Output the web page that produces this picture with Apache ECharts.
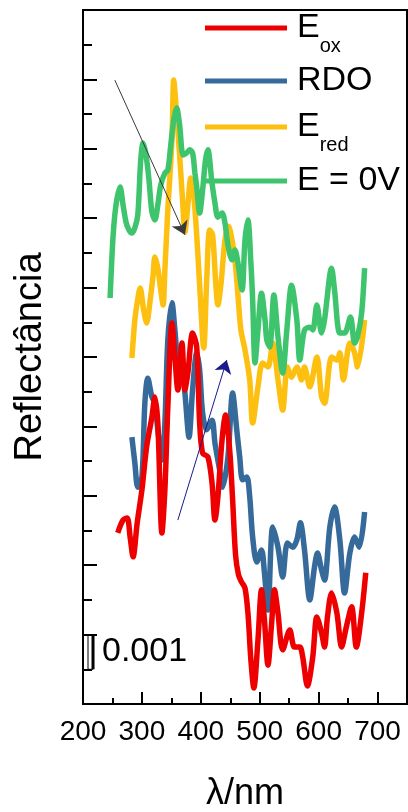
<!DOCTYPE html>
<html>
<head>
<meta charset="utf-8">
<title>Reflectância</title>
<script src="https://cdn.jsdelivr.net/npm/echarts@6/dist/echarts.min.js"></script>
<style>
  html, body { margin: 0; padding: 0; background: #fff; }
  #chart { width: 408px; height: 812px; }
</style>
</head>
<body>
<div id="chart"></div>
<script>
// reflectance values, in units of 0.001 (the scale bar)
const redNm = [259,268,275,280,285,292,300,308,317,322,327,334,339,344,351,356,361,368,373,378,386,393,398,403,412,419,424,429,436,442,449,454,459,464,469,475,480,485,490,497,503,508,514,520,525,531,539,551,559,568,573,581,590,597,605,610,615,622,631,639,647,656,664,673,680];
const redR = [4.93,5.30,5.36,4.81,4.24,5.22,6.17,7.41,8.27,8.85,8.10,4.93,6.17,8.56,10.98,10.00,9.05,10.40,9.05,9.54,10.69,10.29,8.10,7.23,7.12,6.37,5.30,5.97,7.61,8.33,7.32,5.88,4.29,3.72,3.52,3.34,2.62,1.27,0.46,1.84,3.29,2.42,1.12,2.28,3.29,2.62,1.56,2.13,1.64,1.64,1.35,0.52,1.35,2.51,2.05,1.64,2.51,3.20,2.62,1.64,2.22,2.80,1.64,2.62,3.78];

const blueNm = [283,288,293,300,305,310,317,322,327,334,339,344,351,356,361,368,373,380,386,393,398,403,410,419,424,432,437,446,454,461,466,471,478,483,488,495,503,508,514,522,531,539,547,556,563,569,576,585,593,598,605,610,619,627,636,644,653,661,669,678];
const blueR = [7.69,6.95,6.25,6.54,8.67,9.39,8.85,8.67,7.90,7.03,8.10,10.49,11.56,10.78,9.91,9.71,8.96,7.69,9.05,10.12,9.63,8.39,7.90,8.18,7.52,6.74,6.25,7.12,8.96,7.90,7.12,6.46,6.54,5.97,4.81,4.09,4.44,3.78,2.71,5.10,4.52,3.66,4.64,4.52,4.73,5.22,4.44,3.00,3.95,4.35,3.86,3.57,5.10,5.68,4.73,3.20,4.35,4.81,4.52,5.53];

const yellowNm = [283,288,292,297,303,308,314,319,322,327,332,336,339,344,351,354,359,364,369,373,378,383,388,393,398,405,410,415,420,425,429,434,441,447,453,458,463,468,475,483,488,497,505,514,522,531,539,547,554,563,571,576,585,597,605,610,622,631,636,642,653,661,666,678];
const yellowR = [9.97,11.07,11.56,11.99,11.35,10.98,11.64,12.36,12.88,12.56,11.93,11.50,12.51,14.24,16.25,17.98,16.97,15.82,14.52,13.60,14.38,15.16,14.67,13.52,12.07,10.26,12.22,13.66,13.52,12.22,11.50,12.07,13.37,13.77,13.37,12.80,11.79,10.78,10.20,9.34,8.10,9.14,9.83,9.71,10.40,9.34,8.47,9.71,9.42,9.71,9.34,9.71,9.14,10.00,8.85,8.67,10.00,9.91,10.12,9.34,10.40,10.12,9.71,11.07];

const greenNm = [246,251,256,263,268,273,278,283,288,293,298,302,307,312,317,322,327,332,339,344,349,354,359,364,370,376,381,386,390,393,398,403,408,412,419,424,429,436,441,446,453,458,463,470,475,480,485,488,492,497,503,509,512,517,524,531,539,546,554,563,568,576,585,590,597,605,610,622,627,636,644,654,661,666,673,678];
const greenR = [11.70,13.46,14.38,14.90,14.38,13.89,13.66,13.57,13.72,14.09,15.68,16.17,15.82,15.10,14.18,13.95,14.38,14.96,15.30,15.39,16.11,16.83,17.18,16.69,15.82,15.88,15.97,15.88,15.30,14.90,14.15,14.81,15.68,15.97,15.01,14.44,14.03,14.15,13.86,13.23,12.80,13.08,12.71,11.93,13.37,13.95,12.71,11.64,9.83,10.78,11.84,11.07,10.49,10.29,11.79,10.58,9.54,10.78,12.07,11.07,9.91,10.78,10.86,10.78,11.50,10.69,11.07,12.56,11.93,10.69,10.69,11.15,10.40,10.58,11.27,12.56];

const seriesNames = ['Eox', 'RDO', 'Ered', 'E = 0V'];
const legendLabels = ['{m|E}{s|ox}', '{r|RDO}', '{m|E}{s|red}', '{r|E = 0V}'];
const xTicks = [200, 300, 400, 500, 600, 700];

// arrows [[nm, R], [nm, R]] and scale bar
const blackArrow = [[254, 17.98], [373, 13.52]];
const blueArrow = [[361, 5.30], [444, 9.91]];
const scaleBar = [217, 1, 2];

const FONT = '"Liberation Sans", Arial, sans-serif';
const COLORS = ['#ee0000', '#356a9a', '#fdc010', '#3ec46d'];

function zip(xs, ys) {
  return xs.map((x, i) => [x, ys[i]]);
}

const chart = echarts.init(document.getElementById('chart'));

const legendTops = [11, 64, 110, 164];
const richText = {
  m: { fontSize: 34, fontFamily: FONT, color: '#000', lineHeight: 56, padding: [0, 0, 0, 5] },
  r: { fontSize: 34, fontFamily: FONT, color: '#000', lineHeight: 34, padding: [0, 0, 0, 5] },
  s: { fontSize: 20, fontFamily: FONT, color: '#000', lineHeight: 20, verticalAlign: 'bottom' }
};

const legends = seriesNames.map((name, i) => ({
  data: [name],
  left: 205,
  top: legendTops[i],
  padding: 0,
  icon: 'rect',
  itemWidth: 82,
  itemHeight: 5,
  selectedMode: false,
  formatter: () => legendLabels[i],
  textStyle: { rich: richText }
}));

function arrowLine(pts, color) {
  return [
    { coord: pts[0], lineStyle: { color: color, width: 1, type: 'solid' }, itemStyle: { color: color } },
    { coord: pts[1], lineStyle: { color: color, width: 1, type: 'solid' }, itemStyle: { color: color } }
  ];
}

const lineSeries = [
  { name: 'RDO', data: zip(blueNm, blueR), color: COLORS[1] },
  { name: 'Eox', data: zip(redNm, redR), color: COLORS[0] },
  { name: 'Ered', data: zip(yellowNm, yellowR), color: COLORS[2] },
  { name: 'E = 0V', data: zip(greenNm, greenR), color: COLORS[3] }
].map(s => ({
  name: s.name,
  type: 'line',
  data: s.data,
  showSymbol: false,
  smooth: 0.3,
  color: s.color,
  lineStyle: { width: 5.5, color: s.color },
  emphasis: { disabled: true },
  silent: true
}));

// arrows ride on the top-most series
lineSeries[3].markLine = {
  silent: true,
  symbol: ['none', 'arrow'],
  symbolSize: 13,
  label: { show: false },
  emphasis: { disabled: true },
  data: [arrowLine(blackArrow, '#3a3a3a'), arrowLine(blueArrow, '#1a1a8c')]
};

const option = {
  animation: false,
  backgroundColor: '#fff',
  textStyle: { fontFamily: FONT },
  grid: {
    left: 83, right: 1, top: 10, bottom: 108,
    outerBoundsMode: 'none',
    containLabel: false,
    show: true, borderColor: '#000', borderWidth: 2
  },
  legend: legends,
  xAxis: {
    type: 'value',
    min: 200, max: 750, interval: 100,
    name: 'λ/nm',
    nameLocation: 'middle',
    nameGap: 72,
    nameTextStyle: { fontSize: 36, color: '#000', fontFamily: FONT },
    axisLine: { lineStyle: { color: '#000', width: 2 } },
    axisTick: { inside: true, length: 12, lineStyle: { color: '#000', width: 2 } },
    minorTick: { show: true, splitNumber: 2, length: 6, lineStyle: { color: '#000', width: 2 } },
    splitLine: { show: false },
    axisLabel: {
      fontSize: 28, color: '#000', fontFamily: FONT, margin: 14,
      showMaxLabel: false,
      formatter: v => (xTicks.indexOf(v) >= 0 ? String(v) : '')
    }
  },
  yAxis: {
    type: 'value',
    min: 0, max: 20, interval: 2,
    name: 'Reflectância',
    nameLocation: 'middle',
    nameGap: 33,
    nameTextStyle: { fontSize: 38, color: '#000', fontFamily: FONT },
    axisLine: { lineStyle: { color: '#000', width: 2 } },
    axisTick: { inside: true, length: 14, lineStyle: { color: '#000', width: 2 } },
    minorTick: { show: true, splitNumber: 2, length: 9, lineStyle: { color: '#000', width: 2 } },
    splitLine: { show: false },
    axisLabel: { show: false }
  },
  series: lineSeries
};

chart.setOption(option);

// scale bar "0.001", placed in data coordinates
const pLow = chart.convertToPixel({ gridIndex: 0 }, [scaleBar[0], scaleBar[1]]);
const pHigh = chart.convertToPixel({ gridIndex: 0 }, [scaleBar[0], scaleBar[2]]);
chart.setOption({
  graphic: [
    { type: 'line', shape: { x1: pLow[0], y1: pLow[1], x2: pHigh[0], y2: pHigh[1] },
      style: { stroke: '#000', lineWidth: 3 }, silent: true },
    { type: 'polyline', shape: { points: [[pHigh[0], pHigh[1]], [pHigh[0] - 5, pHigh[1]], [pLow[0] - 5, pLow[1]], [pLow[0], pLow[1]]] },
      style: { stroke: '#000', lineWidth: 1, fill: null }, silent: true },
    { type: 'text', x: pLow[0] + 9, y: (pLow[1] + pHigh[1]) / 2,
      style: { text: '0.001', fontSize: 34, fontFamily: FONT, fill: '#000', verticalAlign: 'middle' }, silent: true }
  ]
});
</script>
</body>
</html>
